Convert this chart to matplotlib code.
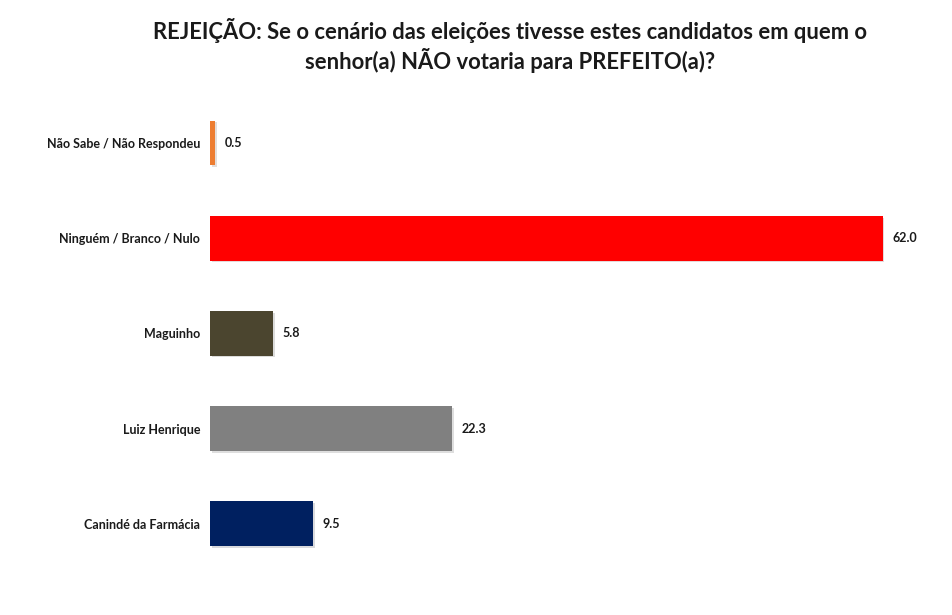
import matplotlib.pyplot as plt
import matplotlib.patheffects as pe

categories = ['Canindé da Farmácia', 'Luiz Henrique', 'Maguinho',
              'Ninguém / Branco / Nulo', 'Não Sabe / Não Respondeu']
values = [9.5, 22.3, 5.8, 62.0, 0.5]
colors = ['#002060', '#808080', '#4B452F', '#FF0000', '#ED7D31']

plt.rcParams['font.family'] = ['Lato', 'DejaVu Sans']

fig = plt.figure(figsize=(9.53, 6.15), dpi=100)
ax = fig.add_axes([0.2204, 0.0553, 0.74, 0.805])

pos = list(range(len(categories)))
bars = ax.barh(pos, values, height=0.47, color=colors)
for b in bars:
    b.set_path_effects([pe.SimplePatchShadow(offset=(1.2, -1.2), alpha=0.15), pe.Normal()])

for p, v in zip(pos, values):
    ax.text(v + 0.9, p, f'{v:.1f}', va='center', ha='left',
            fontsize=9, fontweight='bold', color='#1a1a1a')

ax.set_xlim(0, 65)
ax.set_ylim(-0.6, 4.6)
ax.set_yticks(pos)
ax.set_yticklabels(categories, fontsize=9, fontweight='bold', color='#1a1a1a')
ax.tick_params(axis='y', length=0, pad=7)
ax.set_xticks([])
for s in ax.spines.values():
    s.set_visible(False)

fig.text(0.535, 0.926, 'REJEIÇÃO: Se o cenário das eleições tivesse estes candidatos em quem o\n'
         'senhor(a) NÃO votaria para PREFEITO(a)?',
         ha='center', va='center', fontsize=15.8, fontweight='bold',
         color='#1a1a1a', linespacing=1.2)

fig.savefig('out.png', facecolor='white')
